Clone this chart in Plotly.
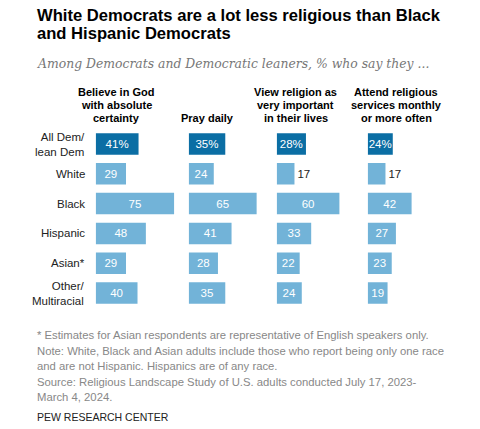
import plotly.graph_objects as go

W, H = 480, 429

groups = ["All Dem/<br>lean Dem", "White", "Black", "Hispanic", "Asian*", "Other/<br>Multiracial"]
group_keys = ["All", "White", "Black", "Hispanic", "Asian", "Other"]

measures_headers = [
    ["Believe in God", "with absolute", "certainty"],
    ["Pray daily"],
    ["View religion as", "very important", "in their lives"],
    ["Attend religious", "services monthly", "or more often"],
]

believe_god = [41, 29, 75, 48, 29, 40]
pray_daily = [35, 24, 65, 41, 28, 35]
religion_important = [28, 17, 60, 33, 22, 24]
attend_monthly = [24, 17, 42, 27, 23, 19]
series = [believe_god, pray_daily, religion_important, attend_monthly]

title_lines = ["White Democrats are a lot less religious than Black", "and Hispanic Democrats"]
subtitle = "Among Democrats and Democratic leaners, % who say they ..."
footnote_lines = [
    "* Estimates for Asian respondents are representative of English speakers only.",
    "Note: White, Black and Asian adults include those who report being only one race",
    "and are not Hispanic. Hispanics are of any race.",
    "Source: Religious Landscape Study of U.S. adults conducted July 17, 2023-",
    "March 4, 2024.",
]
source_label = "PEW RESEARCH CENTER"

DARK = "#0b6ea4"
LIGHT = "#72b3d8"
FONT = "Liberation Sans"

# layout in pixels
col_starts = [95.7, 188.7, 276.7, 367.7]
col_width = 88.0
x_max = 84.2
header_centers = [116, 207, 295.5, 396]
plot_top, plot_bottom = 128.5, 308.5

def px(x):
    return x / W

def py(y):
    return 1 - y / H

fig = go.Figure()
for i, vals in enumerate(series):
    colors = [DARK] + [LIGHT] * (len(vals) - 1)
    texts = [f"{v}%" if j == 0 else str(v) for j, v in enumerate(vals)]
    positions = ["inside" if v >= 18 else "outside" for v in vals]
    fig.add_trace(go.Bar(
        x=vals, y=group_keys, orientation="h",
        marker=dict(color=colors, line=dict(width=0)),
        text=texts, textposition=positions, insidetextanchor="middle",
        insidetextfont=dict(color="white", size=11.5, family=FONT),
        outsidetextfont=dict(color="#222222", size=11.5, family=FONT),
        textangle=0, cliponaxis=False, constraintext="none",
        xaxis="x" if i == 0 else f"x{i+1}", yaxis="y",
        hoverinfo="skip", showlegend=False,
    ))

layout = dict(
    width=W, height=H, margin=dict(l=0, r=0, t=0, b=0),
    paper_bgcolor="white", plot_bgcolor="white",
    bargap=0.28, showlegend=False,
    font=dict(family=FONT),
    uniformtext=dict(minsize=11, mode="show"),
    yaxis=dict(domain=[py(plot_bottom), py(plot_top)], categoryorder="array",
               categoryarray=group_keys[::-1], visible=False, fixedrange=True),
)
for i in range(4):
    key = "xaxis" if i == 0 else f"xaxis{i+1}"
    layout[key] = dict(domain=[px(col_starts[i]), px(col_starts[i] + col_width)],
                       range=[0, x_max], visible=False, anchor="y", fixedrange=True)
fig.update_layout(**layout)

ann = []
# title
for k, line in enumerate(title_lines):
    ann.append(dict(text=f"<b>{line}</b>", x=px(35), y=py(15 + 18.5 * k), xref="paper", yref="paper",
                    xanchor="left", yanchor="middle", showarrow=False,
                    font=dict(family=FONT, size=16.6, color="#000000")))
ann.append(dict(text=f"<i>{subtitle}</i>", x=px(35), y=py(63), xref="paper", yref="paper",
                xanchor="left", yanchor="middle", showarrow=False,
                font=dict(family="DejaVu Serif", size=12.4, color="#777777")))
# headers
for i, lines in enumerate(measures_headers):
    n = len(lines)
    for k, line in enumerate(lines):
        yc = 118 - 13 * (n - 1 - k)
        ann.append(dict(text=f"<b>{line}</b>", x=px(header_centers[i]), y=py(yc), xref="paper", yref="paper",
                        xanchor="center", yanchor="middle", showarrow=False,
                        font=dict(family=FONT, size=11, color="#000000")))
# row labels
for g, key in zip(groups, group_keys):
    ann.append(dict(text=g, x=px(87), y=key, xref="paper", yref="y",
                    xanchor="right", yanchor="middle", align="right", showarrow=False,
                    font=dict(family=FONT, size=11.5, color="#222222")))
# footnotes
for k, line in enumerate(footnote_lines):
    ann.append(dict(text=line, x=px(35), y=py(335 + 15.5 * k), xref="paper", yref="paper",
                    xanchor="left", yanchor="middle", showarrow=False,
                    font=dict(family=FONT, size=11.3, color="#888888")))
ann.append(dict(text=source_label, x=px(35), y=py(417), xref="paper", yref="paper",
                xanchor="left", yanchor="middle", showarrow=False,
                font=dict(family=FONT, size=10.5, color="#222222")))
fig.update_layout(annotations=ann)

fig.write_html("out.html", config={"displayModeBar": False},
               post_script="document.body.style.margin='0';document.body.style.overflow='hidden';")
